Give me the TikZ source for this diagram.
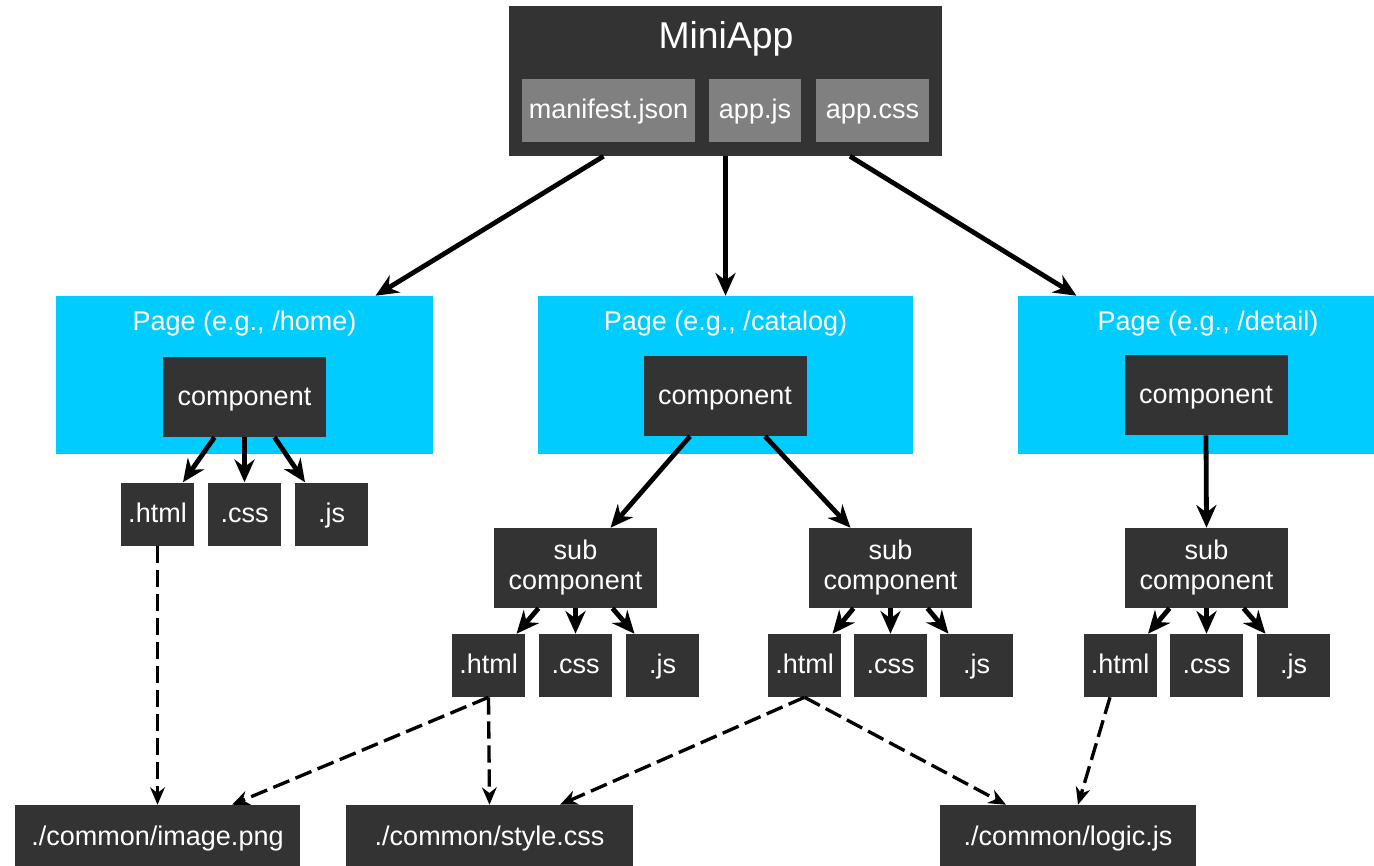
\documentclass[tikz,border=0pt]{standalone}
\usepackage{fontspec}
\setmainfont{Liberation Sans}
\usetikzlibrary{arrows.meta,calc}
\definecolor{boxdark}{HTML}{333333}
\definecolor{boxgray}{HTML}{808080}
\definecolor{pagecyan}{HTML}{00CCFF}

\begin{document}
\begin{tikzpicture}[x=0.75pt,y=-0.75pt,
  sz/.style 2 args={minimum width=#1*0.75pt, minimum height=#2*0.75pt},
  txt/.style={text=white, inner sep=0pt, align=center,
    font=\fontsize{20.25}{22.5}\selectfont},
  oneline/.style={text height=15pt, text depth=3pt},
  dark/.style={txt, fill=boxdark},
  filebox/.style={dark, oneline, sz={73}{63}},
  innerbox/.style={txt, oneline, fill=boxgray},
  pagebox/.style={fill=pagecyan, inner sep=0pt},
  compbox/.style={dark, sz={163}{80}},
  common/.style={dark, oneline, sz={#1}{65}},
  title/.style={txt, oneline},
  solidarr/.style={line width=3.6pt, -{Stealth[length=17pt,width=15pt]}},
  dasharr/.style={line width=2.5pt, dash pattern=on 13pt off 5pt,
    -{Stealth[length=13pt,width=11pt]}}
]
\fill[white] (0,0) rectangle (1374,865);
\useasboundingbox (0,0) rectangle (1374,865);

% application root
\node[dark, sz={433}{150}] (app) at (725.5,81) {};
\node[title, font=\fontsize{28}{32}\selectfont, text height=20pt, text depth=4pt] (apptitle) at (726,38) {MiniApp};
\node[innerbox, sz={173}{63}] (manifest) at (608.5,110.5) {manifest.json};
\node[innerbox, sz={92}{63}] (appjs) at (755,110.5) {app.js};
\node[innerbox, sz={113}{63}] (appcss) at (872.5,110.5) {app.css};

% pages
\node[pagebox, sz={377}{158}] (p1) at (244.5,375) {};
\node[pagebox, sz={375}{158}] (p2) at (725.5,375) {};
\node[pagebox, sz={377}{158}] (p3) at (1206.5,375) {};
\node[title] (p1t) at (244.5,322) {Page (e.g., /home)};
\node[title] (p2t) at (725.5,322) {Page (e.g., /catalog)};
\node[title] (p3t) at (1208,322) {Page (e.g., /detail)};

% page components
\node[compbox, oneline] (c1) at (244.5,397) {component};
\node[compbox, oneline] (c2) at (725,396) {component};
\node[compbox, oneline] (c3) at (1206,395) {component};

% files of the home component
\node[filebox] (h1) at (157.5,514) {.html};
\node[filebox] (h2) at (244.5,514) {.css};
\node[filebox] (h3) at (331.5,514) {.js};

% sub components
\node[compbox] (s1) at (575.5,568) {sub\\component};
\node[compbox] (s2) at (890.5,568) {sub\\component};
\node[compbox] (s3) at (1206.5,568) {sub\\component};

% files of the sub components
\node[filebox] (a1) at (488.5,665.5) {.html};
\node[filebox] (a2) at (575.5,665.5) {.css};
\node[filebox] (a3) at (662.5,665.5) {.js};
\node[filebox] (b1) at (804.5,665.5) {.html};
\node[filebox] (b2) at (890.5,665.5) {.css};
\node[filebox] (b3) at (976.5,665.5) {.js};
\node[filebox] (d1) at (1120,665.5) {.html};
\node[filebox] (d2) at (1206.5,665.5) {.css};
\node[filebox] (d3) at (1293.5,665.5) {.js};

% shared resources
\node[common=285] (img) at (157.5,837.5) {./common/image.png};
\node[common=287] (sty) at (489.5,837.5) {./common/style.css};
\node[common=256] (logic) at (1068,837.5) {./common/logic.js};

% app to pages
\draw[solidarr] ($(app.south)+(-122,0)$) -- ($(p1.north)+(131,0)$);
\draw[solidarr] (app.south) -- (p2.north);
\draw[solidarr] ($(app.south)+(124.5,0)$) -- ($(p3.north)+(-130,0)$);

% home component to its files
\draw[solidarr] ($(c1.south)+(-30,0)$) -- ($(h1.north)+(25.5,0)$);
\draw[solidarr] (c1.south) -- (h2.north);
\draw[solidarr] ($(c1.south)+(30,0)$) -- ($(h3.north)+(-26.5,0)$);

% components to sub components
\draw[solidarr] ($(c2.south)+(-35,0)$) -- ($(s1.north)+(35,0)$);
\draw[solidarr] ($(c2.south)+(40,0)$) -- ($(s2.north)+(-40,0)$);
\draw[solidarr] (c3.south) -- (s3.north);

% sub components to their files
\foreach \s/\f/\g/\h in {s1/a1/a2/a3, s2/b1/b2/b3, s3/d1/d2/d3} {
  \draw[solidarr] ($(\s.south)+(-37,0)$) -- ($(\f.north)+(28,0)$);
  \draw[solidarr] (\s.south) -- (\g.north);
  \draw[solidarr] ($(\s.south)+(37,0)$) -- ($(\h.north)+(-28,0)$);
}

% references to shared resources
\draw[dasharr] (h1.south) -- (img.north);
\draw[dasharr] (a1.south) -- ($(img.north)+(74.5,0)$);
\draw[dasharr] (a1.south) -- (sty.north);
\draw[dasharr] (b1.south) -- ($(sty.north)+(70.5,0)$);
\draw[dasharr] (b1.south) -- ($(logic.north)+(-62,0)$);
\draw[dasharr] ($(d1.south)+(-10,0)$) -- ($(logic.north)+(10,0)$);
\end{tikzpicture}
\end{document}
